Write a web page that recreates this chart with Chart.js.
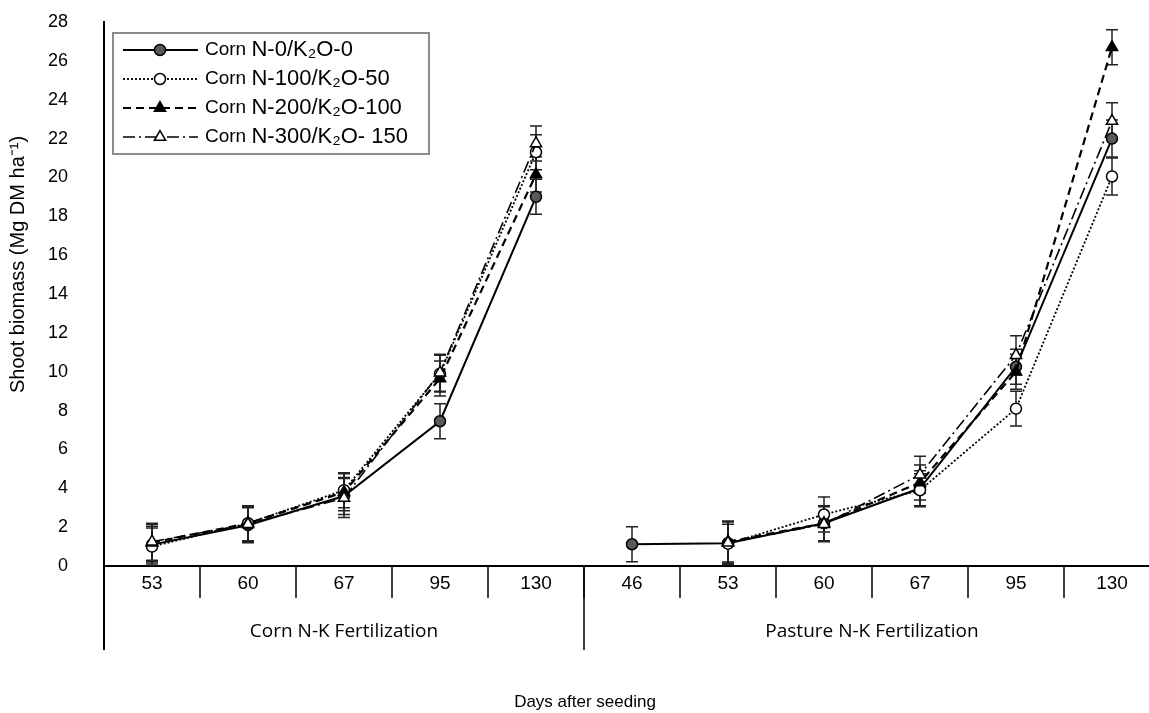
<!DOCTYPE html>
<html>
<head>
<meta charset="utf-8">
<script src="https://cdn.jsdelivr.net/npm/chart.js@4"></script>
<style>
  html, body { margin: 0; padding: 0; background: #fff; overflow: hidden; }
  #wrap { width: 1170px; height: 713px; }
</style>
</head>
<body>
<div id="wrap"><canvas id="myChart" width="1170" height="713"></canvas></div>
<script>
// sampling days, grouped by trial
var days = ['53', '60', '67', '95', '130', '46', '53', '60', '67', '95', '130'];
var groups = ['Corn N-K Fertilization', 'Pasture N-K Fertilization'];
var groupSizes = [5, 6];

// shoot biomass (Mg DM/ha) and standard errors
var n0    = [1.1, 2.1, 3.6, 7.45, 19.0, 1.12, 1.17, 2.2, 4.0, 10.25, 22.0];
var n0Err = [0.95, 0.9, 0.95, 0.9, 0.9, 0.9, 1.1, 0.9, 0.9, 0.9, 0.95];
var n100    = [1.0, 2.2, 3.9, 9.9, 21.3, null, 1.15, 2.65, 3.9, 8.1, 20.05];
var n100Err = [0.95, 0.9, 0.9, 0.95, 0.9, null, 1.0, 0.9, 0.85, 0.9, 0.95];
var n200    = [1.2, 2.2, 3.8, 9.65, 20.15, null, 1.25, 2.2, 4.3, 10.0, 26.7];
var n200Err = [0.95, 0.9, 0.95, 0.9, 0.9, null, 1.05, 0.9, 0.9, 0.9, 0.9];
var n300    = [1.25, 2.15, 3.5, 9.95, 21.75, null, 1.2, 2.15, 4.7, 10.85, 22.9];
var n300Err = [0.95, 0.9, 1.0, 0.95, 0.9, null, 1.1, 0.9, 0.95, 1.0, 0.95];

var yMin = 0, yMax = 28, yStep = 2;
var yTitle = 'Shoot biomass (Mg DM ha\u207B\u00B9)';
var xTitle = 'Days after seeding';

var fontMain = 'Arial, "Liberation Sans", sans-serif';
var fontNarrow = '"Liberation Sans Narrow", Arial, sans-serif';

// error bars under the lines and markers
var errorBars = {
  id: 'errorBars',
  beforeDatasetsDraw: function(chart) {
    var ctx = chart.ctx, xs = chart.scales.x, ys = chart.scales.y;
    ctx.save();
    ctx.strokeStyle = '#222';
    ctx.lineWidth = 1.5;
    chart.data.datasets.forEach(function(ds) {
      ds.data.forEach(function(v, i) {
        if (v === null) return;
        var e = ds.errors[i];
        var px = xs.getPixelForValue(i);
        var top = ys.getPixelForValue(v + e);
        var bot = ys.getPixelForValue(v - e);
        ctx.beginPath();
        ctx.moveTo(px, top); ctx.lineTo(px, bot);
        ctx.moveTo(px - 6, top); ctx.lineTo(px + 6, top);
        ctx.moveTo(px - 6, bot); ctx.lineTo(px + 6, bot);
        ctx.stroke();
      });
    });
    ctx.restore();
  }
};

// category dividers, trial names and the axis titles
var axisGroups = {
  id: 'axisGroups',
  afterDraw: function(chart) {
    var ctx = chart.ctx, xs = chart.scales.x, area = chart.chartArea;
    var half = (xs.getPixelForValue(1) - xs.getPixelForValue(0)) / 2;
    var y0 = area.bottom;
    ctx.save();
    ctx.strokeStyle = '#000';
    ctx.lineWidth = 1.5;
    for (var i = 1; i < days.length; i++) {
      var bx = Math.round(xs.getPixelForValue(i) - half);
      ctx.beginPath();
      ctx.moveTo(bx, y0); ctx.lineTo(bx, y0 + 32);
      ctx.stroke();
    }
    ctx.fillStyle = '#000';
    ctx.font = '19px "Open Sans", Arial, sans-serif';
    ctx.textAlign = 'center';
    ctx.textBaseline = 'middle';
    var start = 0;
    groups.forEach(function(g, k) {
      var left = Math.round(xs.getPixelForValue(start) - half);
      var right = xs.getPixelForValue(start + groupSizes[k] - 1) + half;
      ctx.lineWidth = k === 0 ? 2 : 1.5;
      ctx.beginPath();
      ctx.moveTo(left, y0); ctx.lineTo(left, y0 + 84);
      ctx.stroke();
      ctx.fillText(g, (left + right) / 2, y0 + 66);
      start += groupSizes[k];
    });

    // x title centred on the page rather than on the axis
    ctx.font = '17px ' + fontMain;
    ctx.fillText(xTitle, chart.width / 2, y0 + 136);

    // y title sits a little above the middle of the axis
    ctx.font = '20px ' + fontMain;
    ctx.textAlign = 'left';
    ctx.translate(18, area.bottom - 173);
    ctx.rotate(-Math.PI / 2);
    ctx.fillText(yTitle, 0, 0);
    ctx.restore();
  }
};

// boxed legend with line sample and marker
var boxLegend = {
  id: 'boxLegend',
  afterDraw: function(chart) {
    var ctx = chart.ctx;
    var bx = 113, by = 33, bw = 316, bh = 121, rowH = 29;
    ctx.save();
    ctx.fillStyle = '#fff';
    ctx.fillRect(bx, by, bw, bh);
    ctx.strokeStyle = '#8c8c8c';
    ctx.lineWidth = 2;
    ctx.strokeRect(bx, by, bw, bh);
    chart.data.datasets.forEach(function(ds, i) {
      var cy = by + 17 + i * rowH;
      ctx.save();
      ctx.strokeStyle = ds.borderColor;
      ctx.lineWidth = ds.borderWidth;
      ctx.setLineDash(ds.borderDash || []);
      ctx.beginPath();
      ctx.moveTo(123, cy); ctx.lineTo(198, cy);
      ctx.stroke();
      ctx.restore();
      ctx.fillStyle = ds.pointBackgroundColor;
      ctx.strokeStyle = ds.pointBorderColor;
      ctx.lineWidth = ds.pointBorderWidth;
      Chart.helpers.drawPoint(ctx, {
        pointStyle: ds.pointStyle, radius: ds.pointRadius, rotation: 0,
        borderWidth: ds.pointBorderWidth
      }, 160, cy);
      var sp = ds.label.indexOf(' ');
      var head = ds.label.slice(0, sp + 1), rest = ds.label.slice(sp + 1);
      ctx.fillStyle = '#000';
      ctx.textBaseline = 'middle';
      ctx.textAlign = 'left';
      ctx.font = '19px ' + fontMain;
      ctx.fillText(head, 205, cy);
      var w = ctx.measureText(head).width;
      ctx.font = '22px ' + fontMain;
      ctx.fillText(rest, 205 + w, cy);
    });
    ctx.restore();
  }
};

function series(label, data, errs, style, radius, fill, dash, width, order) {
  return {
    label: label,
    data: data,
    errors: errs,
    borderColor: '#000',
    borderWidth: width,
    borderDash: dash,
    pointStyle: style,
    pointRadius: radius,
    pointBackgroundColor: fill,
    pointBorderColor: '#000',
    pointBorderWidth: 1.5,
    pointHoverRadius: radius,
    spanGaps: false,
    tension: 0,
    fill: false,
    order: order
  };
}

var dsN0 = series('Corn N-0/K\u2082O-0', n0, n0Err, 'circle', 5.5, '#5a5a5a', [], 2, 4);
// no line across the gap between the two trials
dsN0.segment = {
  borderColor: function(c) { return c.p0DataIndex === groupSizes[0] - 1 ? 'rgba(0,0,0,0)' : undefined; }
};

var chart = new Chart(document.getElementById('myChart').getContext('2d'), {
  type: 'line',
  data: {
    labels: days,
    datasets: [
      dsN0,
      series('Corn N-100/K\u2082O-50', n100, n100Err, 'circle', 5.5, '#fff', [2, 2], 1.8, 3),
      series('Corn N-200/K\u2082O-100', n200, n200Err, 'triangle', 6.5, '#000', [8, 5], 2.2, 2),
      series('Corn N-300/K\u2082O- 150', n300, n300Err, 'triangle', 6.5, '#fff', [12, 4, 2, 4], 1.6, 1)
    ]
  },
  options: {
    responsive: false,
    animation: false,
    devicePixelRatio: 1,
    layout: { padding: { top: 22, right: 10, left: 0, bottom: 0 } },
    plugins: {
      legend: { display: false },
      tooltip: { enabled: false }
    },
    scales: {
      x: {
        type: 'category',
        offset: true,
        grid: { drawOnChartArea: false, drawTicks: false, offset: true },
        border: { display: true, color: '#000', width: 2 },
        ticks: {
          color: '#000', padding: 6, autoSkip: false, maxRotation: 0,
          font: { family: fontNarrow, size: 19 }
        },
        afterFit: function(s) { s.height = 147; }
      },
      y: {
        min: yMin, max: yMax,
        // invisible tick marks keep the labels clear of the axis line
        grid: { drawOnChartArea: false, drawTicks: true, tickLength: 32, tickColor: 'rgba(0,0,0,0)' },
        border: { display: true, color: '#000', width: 2 },
        ticks: {
          stepSize: yStep, color: '#000', padding: 4,
          font: { family: fontMain, size: 18 }
        },
        afterFit: function(s) { s.width = 104; }
      }
    }
  },
  plugins: [errorBars, axisGroups, boxLegend]
});
</script>
</body>
</html>
